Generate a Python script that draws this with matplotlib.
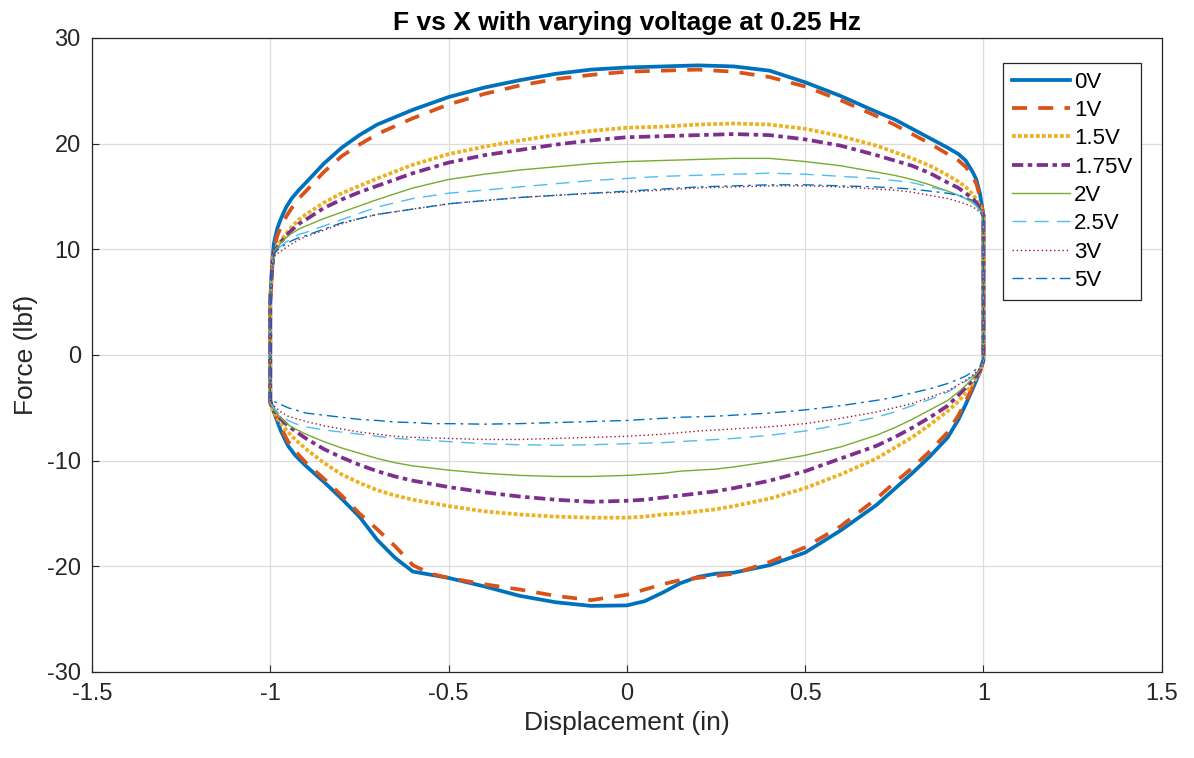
import numpy as np
import matplotlib
matplotlib.use("Agg")
import matplotlib.pyplot as plt
from matplotlib.ticker import FuncFormatter

# ---------------- data ----------------
labels = ["0V", "1V", "1.5V", "1.75V", "2V", "2.5V", "3V", "5V"]

# upper branch (moving left -> right), starting at the bottom of the left vertical edge
x_up = [-1.0, -1.0, -0.995, -0.99, -0.98, -0.97, -0.955, -0.94, -0.92, -0.9, -0.85, -0.8, -0.75,
        -0.7, -0.6, -0.5, -0.4, -0.3, -0.2, -0.1, 0.0, 0.1, 0.2, 0.3, 0.4, 0.5, 0.6, 0.7, 0.75,
        0.8, 0.85, 0.9, 0.93, 0.95, 0.97, 0.98, 0.99, 1.0, 1.0]

# lower branch (moving right -> left)
x_lo = [1.0, 0.99, 0.97, 0.95, 0.93, 0.9, 0.85, 0.8, 0.75, 0.7, 0.6, 0.5, 0.4, 0.3, 0.25, 0.2,
        0.15, 0.1, 0.05, 0.0, -0.1, -0.2, -0.3, -0.4, -0.5, -0.55, -0.6, -0.65, -0.7, -0.75, -0.8,
        -0.85, -0.9, -0.93, -0.95, -0.97, -0.99, -1.0]

up_0V = [-4.3, 5.0, 8.5, 10.5, 12.0, 12.9, 14.0, 14.8, 15.6, 16.3, 18.1, 19.6, 20.8,
         21.8, 23.2, 24.4, 25.3, 26.0, 26.6, 27.0, 27.2, 27.3, 27.4, 27.3, 26.9, 25.8, 24.5, 23.0, 22.3,
         21.4, 20.5, 19.6, 19.0, 18.4, 17.3, 16.6, 15.3, 13.2, -0.5]
lo_0V = [-0.5, -1.6, -3.2, -4.7, -6.1, -7.8, -9.6, -11.2, -12.7, -14.2, -16.6, -18.7, -19.9, -20.6, -20.7, -21.0,
         -21.6, -22.5, -23.3, -23.7, -23.75, -23.4, -22.8, -21.9, -21.1, -20.8, -20.5, -19.2, -17.5, -15.3, -13.6,
         -12.0, -10.5, -9.5, -8.6, -7.2, -5.4, -4.3]

up_1V = [-4.3, 5.0, 8.0, 10.0, 11.3, 12.1, 13.1, 13.9, 14.8, 15.5, 17.3, 18.8, 19.9,
         20.9, 22.4, 23.7, 24.7, 25.5, 26.1, 26.5, 26.8, 26.9, 27.0, 26.8, 26.3, 25.4, 24.1, 22.6, 21.8,
         20.9, 20.0, 19.0, 18.4, 17.8, 16.9, 16.2, 15.0, 13.2, -0.5]
lo_1V = [-0.5, -1.6, -3.0, -4.4, -5.7, -7.3, -9.1, -10.7, -12.1, -13.6, -16.2, -18.2, -19.6, -20.7, -20.9, -21.1,
         -21.3, -21.7, -22.2, -22.7, -23.2, -22.8, -22.2, -21.7, -21.1, -20.7, -19.9, -18.1, -16.5, -15.0, -13.3,
         -11.7, -10.2, -9.1, -8.2, -6.9, -5.2, -4.3]

up_15V = [-4.6, 5.0, 8.0, 9.8, 10.3, 10.8, 11.5, 12.1, 12.8, 13.3, 14.4, 15.3, 16.0,
          16.7, 18.0, 19.0, 19.7, 20.3, 20.8, 21.2, 21.5, 21.6, 21.8, 21.9, 21.8, 21.4, 20.7, 19.8, 19.2,
          18.6, 17.9, 17.0, 16.4, 15.9, 15.2, 14.7, 14.1, 13.2, -0.5]
lo_15V = [-0.5, -1.6, -2.7, -3.6, -4.4, -5.3, -6.6, -7.8, -8.8, -9.8, -11.3, -12.6, -13.6, -14.3, -14.6, -14.8,
          -15.0, -15.1, -15.3, -15.4, -15.4, -15.3, -15.1, -14.8, -14.3, -14.0, -13.7, -13.3, -12.8, -12.1, -11.3,
          -10.2, -8.9, -8.0, -7.3, -6.5, -5.4, -4.6]

up_175V = [-4.6, 5.0, 8.0, 9.8, 10.2, 10.7, 11.3, 11.8, 12.4, 12.8, 13.9, 14.7, 15.4,
           16.0, 17.2, 18.2, 18.9, 19.4, 19.9, 20.3, 20.6, 20.7, 20.8, 20.9, 20.8, 20.4, 19.8, 18.9, 18.4,
           17.9, 17.2, 16.3, 15.8, 15.3, 14.8, 14.4, 13.9, 13.2, -0.5]
lo_175V = [-0.5, -1.5, -2.4, -3.1, -3.8, -4.8, -5.9, -6.9, -7.8, -8.6, -9.8, -11.0, -11.9, -12.6, -12.9, -13.1,
           -13.3, -13.5, -13.7, -13.8, -13.9, -13.7, -13.4, -13.0, -12.5, -12.2, -11.9, -11.5, -11.0, -10.4, -9.7,
           -8.9, -7.9, -7.2, -6.7, -6.1, -5.2, -4.6]

up_2V = [-4.6, 5.0, 8.0, 9.8, 10.2, 10.6, 11.1, 11.5, 11.9, 12.2, 12.9, 13.5, 14.1,
         14.7, 15.8, 16.6, 17.1, 17.5, 17.8, 18.1, 18.3, 18.4, 18.5, 18.6, 18.6, 18.3, 17.9, 17.3, 17.0,
         16.6, 16.1, 15.5, 15.1, 14.8, 14.4, 14.1, 13.7, 13.2, -0.5]
lo_2V = [-0.5, -1.4, -2.2, -2.9, -3.5, -4.3, -5.2, -6.1, -6.9, -7.6, -8.7, -9.5, -10.1, -10.6, -10.8, -10.9,
         -11.0, -11.2, -11.3, -11.4, -11.5, -11.5, -11.4, -11.2, -10.9, -10.7, -10.5, -10.2, -9.8, -9.3, -8.8,
         -8.2, -7.5, -7.0, -6.6, -6.0, -5.2, -4.6]

up_25V = [-4.5, 5.0, 8.0, 9.7, 10.0, 10.3, 10.7, 11.0, 11.4, 11.6, 12.2, 12.8, 13.4,
          14.0, 14.8, 15.3, 15.6, 15.9, 16.2, 16.5, 16.7, 16.9, 17.0, 17.1, 17.2, 17.1, 16.9, 16.7, 16.5,
          16.3, 15.9, 15.5, 15.1, 14.8, 14.4, 14.1, 13.7, 13.2, -0.5]
lo_25V = [-0.5, -1.3, -2.0, -2.5, -2.9, -3.5, -4.2, -4.8, -5.4, -5.9, -6.6, -7.2, -7.6, -7.9, -8.0, -8.1,
          -8.2, -8.3, -8.35, -8.4, -8.5, -8.55, -8.5, -8.4, -8.2, -8.1, -8.0, -7.9, -7.7, -7.5, -7.3,
          -7.1, -6.8, -6.5, -6.2, -5.8, -5.0, -4.5]

up_3V = [-4.4, 5.0, 8.0, 9.3, 9.6, 9.8, 10.2, 10.5, 10.9, 11.2, 11.8, 12.4, 12.9,
         13.3, 13.8, 14.3, 14.6, 14.9, 15.1, 15.3, 15.4, 15.6, 15.8, 15.9, 16.0, 16.0, 15.9, 15.7, 15.6,
         15.4, 15.1, 14.8, 14.5, 14.3, 14.0, 13.8, 13.5, 13.1, -0.5]
lo_3V = [-0.5, -1.3, -1.9, -2.4, -2.8, -3.4, -4.0, -4.6, -5.0, -5.4, -6.0, -6.5, -6.8, -7.0, -7.1, -7.2,
         -7.35, -7.5, -7.6, -7.7, -7.8, -7.9, -8.0, -8.0, -7.9, -7.85, -7.8, -7.7, -7.5, -7.3, -7.0,
         -6.7, -6.3, -6.0, -5.8, -5.4, -4.8, -4.4]

up_5V = [-4.2, 5.0, 8.0, 9.6, 9.9, 10.2, 10.5, 10.8, 11.1, 11.3, 11.9, 12.5, 12.9,
         13.3, 13.8, 14.3, 14.6, 14.9, 15.1, 15.3, 15.5, 15.7, 15.9, 16.0, 16.1, 16.1, 16.0, 15.9, 15.8,
         15.7, 15.5, 15.3, 15.1, 14.9, 14.6, 14.3, 13.9, 13.3, -0.3]
lo_5V = [-0.3, -1.1, -1.6, -2.0, -2.3, -2.7, -3.2, -3.6, -4.0, -4.3, -4.8, -5.2, -5.5, -5.7, -5.8, -5.85,
         -5.9, -6.0, -6.1, -6.2, -6.3, -6.4, -6.5, -6.55, -6.5, -6.5, -6.4, -6.35, -6.2, -6.1, -5.9,
         -5.7, -5.5, -5.2, -5.0, -4.7, -4.4, -4.2]

upper = [up_0V, up_1V, up_15V, up_175V, up_2V, up_25V, up_3V, up_5V]
lower = [lo_0V, lo_1V, lo_15V, lo_175V, lo_2V, lo_25V, lo_3V, lo_5V]

# ---------------- styles ----------------
colors = ["#0072BD", "#D95319", "#EDB120", "#7E2F8E", "#77AC30", "#4DBEEE", "#A2142F", "#0072BD"]
styles = ["-", (0, (4.0, 3.0)), (0, (1, 0.6)), (0, (3.0, 1.2, 1.2, 1.2)), "-", (0, (10, 6)), (0, (1, 2)),
          (0, (8, 3.5, 2, 3.5))]
widths = [2.7, 2.7, 2.7, 2.7, 1.0, 1.0, 1.0, 1.0]

plt.rcParams["font.family"] = ["Liberation Sans", "DejaVu Sans"]
plt.rcParams["axes.unicode_minus"] = False

fig = plt.figure(figsize=(11.94, 7.58), dpi=100)
ax = fig.add_axes([0.077, 0.1135, 0.896, 0.8365])

for lab, yu, yl, c, ls, lw in zip(labels, upper, lower, colors, styles, widths):
    xs = list(x_up) + list(x_lo)
    ys = list(yu) + list(yl)
    ax.plot(xs, ys, color=c, linestyle=ls, linewidth=lw, label=lab,
            solid_joinstyle="round", dash_joinstyle="round")

ax.set_xlim(-1.5, 1.5)
ax.set_ylim(-30, 30)
ax.set_xticks(np.arange(-1.5, 1.51, 0.5))
ax.set_yticks(np.arange(-30, 31, 10))
ax.xaxis.set_major_formatter(FuncFormatter(lambda v, p: ("%g" % round(v, 2))))
ax.yaxis.set_major_formatter(FuncFormatter(lambda v, p: ("%g" % round(v, 2))))
ax.grid(True, color="#dcdcdc", linewidth=0.9)
ax.set_axisbelow(True)
ax.tick_params(direction="in", length=5, labelsize=17, colors="#262626", pad=8)
for s in ax.spines.values():
    s.set_color("#262626")
    s.set_linewidth(0.9)

ax.set_xlabel("Displacement (in)", fontsize=19, color="#262626", labelpad=4)
ax.set_ylabel("Force (lbf)", fontsize=19, color="#262626", labelpad=6)
ax.set_title("F vs X with varying voltage at 0.25 Hz", fontsize=19, fontweight="bold", color="#000000", pad=6)

leg = ax.legend(loc="upper right", bbox_to_anchor=(0.981, 0.961), fontsize=16, handlelength=2.6,
                handletextpad=0.2, labelspacing=0.33, borderpad=0.4, fancybox=False, framealpha=1,
                edgecolor="#262626", borderaxespad=0)
leg.get_frame().set_linewidth(0.9)

fig.savefig("out.png", dpi=100)
